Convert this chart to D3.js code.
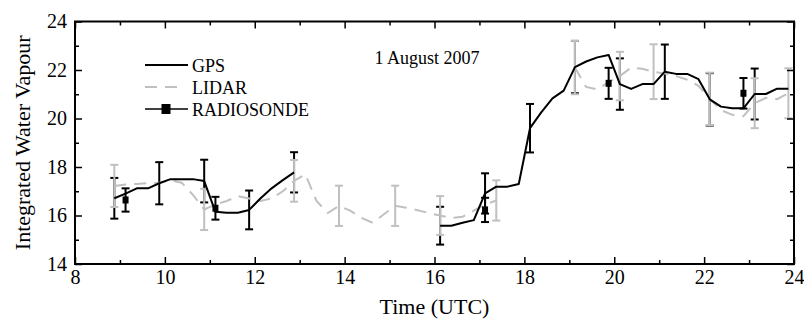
<!DOCTYPE html>
<html>
<head>
<meta charset="utf-8">
<script src="https://cdn.jsdelivr.net/npm/d3@7"></script>
<style>
  html, body { margin: 0; padding: 0; background: #fff; }
  svg { display: block; }
  text { font-family: "Liberation Serif", "Times New Roman", serif; fill: #000; }
</style>
</head>
<body>
<svg id="chart" width="804" height="323"></svg>
<script>
// Integrated water vapour, 1 August 2007: GPS, LIDAR and radiosonde retrievals.

// GPS (15-minute samples, gap between ~13 and 16 UTC)
const gpsTime = [8.875, 9.125, 9.375, 9.625, 9.875, 10.125, 10.375, 10.625, 10.875, 11.125, 11.375, 11.625, 11.875, 12.125, 12.375, 12.625, 12.875,
  16.125, 16.375, 16.625, 16.875, 17.125, 17.375, 17.625, 17.875, 18.125, 18.375, 18.625, 18.875, 19.125, 19.375, 19.625, 19.875,
  20.125, 20.375, 20.625, 20.875, 21.125, 21.375, 21.625, 21.875, 22.125, 22.375, 22.625, 22.875, 23.125, 23.375, 23.625, 23.875];
const gpsIWV = [16.71, 16.9, 17.12, 17.12, 17.33, 17.5, 17.5, 17.5, 17.42, 16.15, 16.11, 16.11, 16.23, 16.7, 17.12, 17.46, 17.78,
  15.58, 15.58, 15.7, 15.81, 16.91, 17.19, 17.19, 17.3, 19.6, 20.25, 20.83, 21.15, 22.12, 22.35, 22.52, 22.62,
  21.42, 21.22, 21.42, 21.42, 21.93, 21.84, 21.84, 21.62, 20.79, 20.49, 20.42, 20.42, 21.01, 21.01, 21.23, 21.23];
// GPS uncertainty (half-width) at hourly samples
const gpsErrTime = [8.875, 9.875, 10.875, 11.875, 12.875, 16.125, 17.125, 18.125, 19.125, 20.125, 21.125, 22.125, 23.125];
const gpsErr = [0.84, 0.87, 0.88, 0.8, 0.83, 0.78, 0.83, 1.0, 1.08, 1.06, 1.12, 1.08, 1.05];

// LIDAR (gap between ~17.4 and 19 UTC)
const lidarTime = [8.875, 9.125, 9.375, 9.625, 9.875, 10.125, 10.375, 10.625, 10.875, 11.125, 11.375, 11.625, 11.875, 12.125, 12.375, 12.625, 12.875,
  13.125, 13.375, 13.625, 13.875, 14.125, 14.375, 14.625, 14.875, 15.125, 15.375, 15.625, 15.875, 16.125, 16.375, 16.625, 16.875, 17.125, 17.375,
  19.125, 19.375, 19.625, 19.875, 20.125, 20.375, 20.625, 20.875, 21.125, 21.375, 21.625, 21.875, 22.125, 22.375, 22.625, 22.875, 23.125, 23.375, 23.625, 23.875];
const lidarIWV = [17.22, 17.28, 17.3, 17.33, 17.35, 17.45, 17.35, 16.85, 16.25, 16.45, 16.6, 16.8, 16.7, 16.6, 16.7, 17.0, 17.43,
  17.7, 16.6, 16.1, 16.4, 16.2, 15.9, 15.7, 16.05, 16.4, 16.32, 16.22, 16.1, 16.0, 15.9, 15.95, 16.2, 16.45, 16.62,
  22.1, 21.3, 21.2, 21.5, 21.75, 22.1, 22.05, 21.93, 21.85, 21.75, 21.6, 21.35, 20.81, 20.35, 20.15, 20.1, 20.63, 20.85, 20.8, 21.04];
const lidarErrTime = [8.875, 10.875, 12.875, 13.875, 15.125, 16.125, 17.375, 19.125, 20.125, 20.875, 22.125, 23.125, 23.875];
const lidarErr = [0.87, 0.85, 0.86, 0.83, 0.83, 0.8, 0.83, 1.1, 1.0, 1.13, 1.08, 1.03, 1.03];

// Radiosonde launches
const sondeTime = [9.125, 11.125, 17.125, 19.875, 22.875];
const sondeIWV = [16.64, 16.3, 16.23, 21.45, 21.04];
const sondeErr = [0.48, 0.47, 0.5, 0.64, 0.63];

// Axes
const xMajor = [8, 10, 12, 14, 16, 18, 20, 22, 24];
const xMinor = [9, 11, 13, 15, 17, 19, 21, 23];
const yMajor = [14, 16, 18, 20, 22, 24];
const yMinor = [15, 17, 19, 21, 23];

const seriesNames = ["GPS", "LIDAR", "RADIOSONDE"];
const title = "1 August 2007";
const xTitle = "Time (UTC)";
const yTitle = "Integrated Water Vapour";

const lidarGrey = "#c0c0c0";
const svg = d3.select("#chart");
const L = 75, R = 794, T = 21.5, B = 264;
const x = d3.scaleLinear().domain([8, 24]).range([L, R]);
const y = d3.scaleLinear().domain([14, 24]).range([B, T]);

function zip(ts, vs) { return ts.map((t, i) => ({ t, v: vs[i] })); }
// break a series where consecutive samples are more than an hour apart
function segments(pts) {
  const out = [];
  let cur = [];
  pts.forEach((p, i) => {
    if (i > 0 && p.t - pts[i - 1].t > 1) { out.push(cur); cur = []; }
    cur.push(p);
  });
  if (cur.length) out.push(cur);
  return out;
}
const line = d3.line().x(d => x(d.t)).y(d => y(d.v));

function errorBars(g, ts, centreOf, errs, colour, cap) {
  const data = ts.map((t, i) => ({ t, v: centreOf(t), e: errs[i] }));
  const grp = g.append("g").attr("stroke", colour).attr("stroke-width", 2).attr("fill", "none");
  grp.selectAll("line.v").data(data).join("line").attr("class", "v")
    .attr("x1", d => x(d.t)).attr("x2", d => x(d.t))
    .attr("y1", d => y(d.v - d.e)).attr("y2", d => y(d.v + d.e));
  [1, -1].forEach(s => {
    grp.selectAll("line.c" + (s > 0 ? "t" : "b")).data(data).join("line").attr("class", "c" + (s > 0 ? "t" : "b"))
      .attr("x1", d => x(d.t) - cap).attr("x2", d => x(d.t) + cap)
      .attr("y1", d => y(d.v + s * d.e)).attr("y2", d => y(d.v + s * d.e));
  });
}

const gps = zip(gpsTime, gpsIWV);
const lidar = zip(lidarTime, lidarIWV);
const gpsAt = t => gpsIWV[gpsTime.indexOf(t)];
const lidarAt = t => lidarIWV[lidarTime.indexOf(t)];

const plot = svg.append("g");
errorBars(plot, gpsErrTime, gpsAt, gpsErr, "#000", 4);

plot.selectAll("path.lidar").data(segments(lidar)).join("path").attr("class", "lidar")
  .attr("d", line).attr("fill", "none").attr("stroke", lidarGrey)
  .attr("stroke-width", 2).attr("stroke-dasharray", "12,8");

errorBars(plot, lidarErrTime, lidarAt, lidarErr, lidarGrey, 4);

plot.selectAll("path.gps").data(segments(gps)).join("path").attr("class", "gps")
  .attr("d", line).attr("fill", "none").attr("stroke", "#000")
  .attr("stroke-width", 2).attr("stroke-linejoin", "round");

errorBars(plot, sondeTime, t => sondeIWV[sondeTime.indexOf(t)], sondeErr, "#000", 4);
plot.selectAll("rect.sonde").data(zip(sondeTime, sondeIWV)).join("rect").attr("class", "sonde")
  .attr("x", d => x(d.t) - 3).attr("y", d => y(d.v) - 3.5)
  .attr("width", 6).attr("height", 7).attr("fill", "#000");

// Axes with inward ticks on all four sides
function styleAxis(g) {
  g.select(".domain").remove();
  g.selectAll(".tick line").attr("stroke", "#000").attr("stroke-width", 1.5);
  g.selectAll(".tick text").style("font-family", '"Liberation Serif", serif').style("font-size", "20px").attr("fill", "#000");
}
svg.append("g").attr("transform", `translate(0,${B})`)
  .call(d3.axisBottom(x).tickValues(xMajor).tickFormat(d3.format("d")).tickSizeInner(-7).tickSizeOuter(0).tickPadding(6))
  .call(styleAxis);
svg.append("g").attr("transform", `translate(0,${B})`)
  .call(d3.axisBottom(x).tickValues(xMinor).tickFormat("").tickSizeInner(-4).tickSizeOuter(0)).call(styleAxis);
svg.append("g").attr("transform", `translate(0,${T})`)
  .call(d3.axisTop(x).tickValues(xMajor).tickFormat("").tickSizeInner(-7).tickSizeOuter(0)).call(styleAxis);
svg.append("g").attr("transform", `translate(0,${T})`)
  .call(d3.axisTop(x).tickValues(xMinor).tickFormat("").tickSizeInner(-4).tickSizeOuter(0)).call(styleAxis);
svg.append("g").attr("transform", `translate(${L},0)`)
  .call(d3.axisLeft(y).tickValues(yMajor).tickFormat(d3.format("d")).tickSizeInner(-7).tickSizeOuter(0).tickPadding(8))
  .call(styleAxis);
svg.append("g").attr("transform", `translate(${L},0)`)
  .call(d3.axisLeft(y).tickValues(yMinor).tickFormat("").tickSizeInner(-4).tickSizeOuter(0)).call(styleAxis);
svg.append("g").attr("transform", `translate(${R},0)`)
  .call(d3.axisRight(y).tickValues(yMajor).tickFormat("").tickSizeInner(-7).tickSizeOuter(0)).call(styleAxis);
svg.append("g").attr("transform", `translate(${R},0)`)
  .call(d3.axisRight(y).tickValues(yMinor).tickFormat("").tickSizeInner(-4).tickSizeOuter(0)).call(styleAxis);

svg.append("rect").attr("x", L).attr("y", T).attr("width", R - L).attr("height", B - T)
  .attr("fill", "none").attr("stroke", "#000").attr("stroke-width", 2);

// Titles
svg.append("text").attr("x", (L + R) / 2).attr("y", 314).attr("text-anchor", "middle")
  .style("font-size", "22px").text(xTitle);
svg.append("text").attr("transform", `translate(30,${(T + B) / 2}) rotate(-90)`).attr("text-anchor", "middle")
  .style("font-size", "22px").text(yTitle);
svg.append("text").attr("x", 427).attr("y", 64).attr("text-anchor", "middle")
  .style("font-size", "18px").text(title);

// Legend
const lg = svg.append("g");
const rows = [65, 87, 109];
lg.append("line").attr("x1", 145).attr("x2", 188).attr("y1", rows[0]).attr("y2", rows[0])
  .attr("stroke", "#000").attr("stroke-width", 2);
lg.append("line").attr("x1", 145).attr("x2", 177).attr("y1", rows[1]).attr("y2", rows[1])
  .attr("stroke", lidarGrey).attr("stroke-width", 2).attr("stroke-dasharray", "12,8");
lg.append("line").attr("x1", 145).attr("x2", 188).attr("y1", rows[2]).attr("y2", rows[2])
  .attr("stroke", "#000").attr("stroke-width", 1.5);
lg.append("rect").attr("x", 161.5).attr("y", rows[2] - 5).attr("width", 9).attr("height", 10).attr("fill", "#000");
lg.selectAll("text").data(seriesNames).join("text")
  .attr("x", 192).attr("y", (d, i) => rows[i] + 6.5)
  .style("font-size", "18px").text(d => d);
</script>
</body>
</html>
